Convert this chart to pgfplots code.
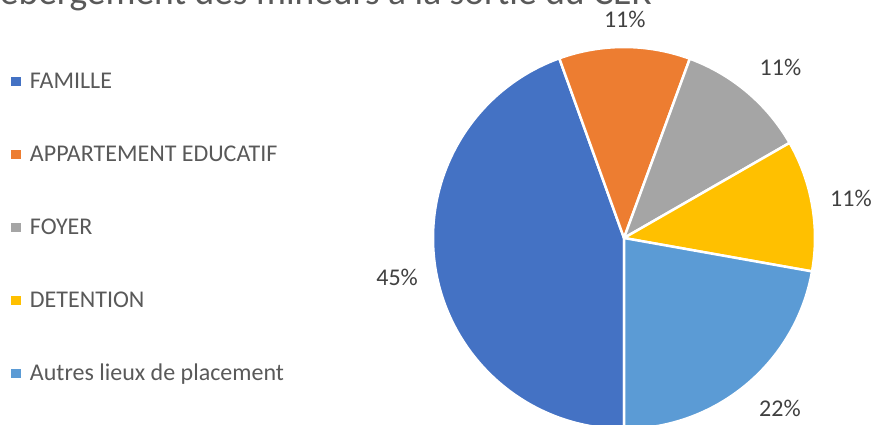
\documentclass[border=0pt]{standalone}
\usepackage{fontspec}
\setmainfont{Carlito}
\usepackage{pgfplots}
\usepackage{pgfplotstable}
\pgfplotsset{compat=1.18}

\definecolor{pie0}{HTML}{4472C4}
\definecolor{pie1}{HTML}{ED7D31}
\definecolor{pie2}{HTML}{A5A5A5}
\definecolor{pie3}{HTML}{FFC000}
\definecolor{pie4}{HTML}{5B9BD5}
\definecolor{txt}{HTML}{595959}
\definecolor{lbl}{HTML}{404040}

\newcommand\legendfont{\fontsize{24bp}{29bp}\selectfont}
\newcommand\titlefont{\fontsize{37.5bp}{44bp}\selectfont}

% parts in %, in the order of the legend
\pgfplotstableread{
value
44.5
11.1
11.1
11.1
22.2
}\piedata

\begin{document}
\begin{tikzpicture}
\useasboundingbox (0,0) rectangle (875bp,425bp);
\clip (0,0) rectangle (875bp,425bp);
\begin{axis}[
  at={(0,0)}, anchor=south west,
  x=1bp, y=1bp,
  xmin=0, xmax=875, ymin=-425, ymax=0,
  hide axis, clip=false, enlargelimits=false,
  legend cell align=left,
  legend image code/.code={\fill[#1, draw=none] (0bp,-4.5bp) rectangle (9.5bp,4.5bp);},
  legend style={at={(rel axis cs:0.0129,0.8271)}, anchor=north west,
    draw=none, fill=none, inner sep=0pt, row sep=58bp, column sep=9bp,
    nodes={inner sep=0pt, text=txt, font=\legendfont, text height=15bp, text depth=0pt}},
]
\def\cx{624}\def\cy{-238}\def\R{191bp}
\def\cum{0}
\pgfplotsforeachungrouped \i in {0,...,4}{%
  \pgfplotstablegetelem{\i}{value}\of\piedata
  \let\v\pgfplotsretval
  \pgfmathtruncatemacro\pct{round(\v)}
  \pgfmathsetmacro\a{-90-3.6*\cum}
  \pgfmathsetmacro\b{\a-3.6*\v}
  \pgfmathsetmacro\m{(\a+\b)/2}
  \pgfmathsetmacro\lx{\cx+207*cos(\m)+23*max(-1,min(1,2*cos(\m)))}
  \pgfmathsetmacro\ly{\cy+207*sin(\m)+12*max(-1,min(1,2*sin(\m)))}
  \pgfmathsetmacro\cum{\cum+\v}
  \edef\temp{\noexpand\fill[pie\i, draw=white, line width=2.5bp, line join=round]
    (\cx,\cy) -- ++(\a:\R) arc[start angle=\a, end angle=\b, radius=\R] -- cycle;
    \noexpand\node[text=lbl, font=\noexpand\legendfont] at (\lx,\ly) {\pct\noexpand\%};}%
  \temp
}
\addlegendimage{fill=pie0, draw=none}\addlegendentry{FAMILLE}
\addlegendimage{fill=pie1, draw=none}\addlegendentry{APPARTEMENT EDUCATIF}
\addlegendimage{fill=pie2, draw=none}\addlegendentry{FOYER}
\addlegendimage{fill=pie3, draw=none}\addlegendentry{DETENTION}
\addlegendimage{fill=pie4, draw=none}\addlegendentry{Autres lieux de placement}
\node[anchor=base east, text=txt, font=\titlefont, inner sep=0pt] at (652,-4.5)
  {Hébergement des mineurs à la sortie du CER};
\end{axis}
\end{tikzpicture}
\end{document}
